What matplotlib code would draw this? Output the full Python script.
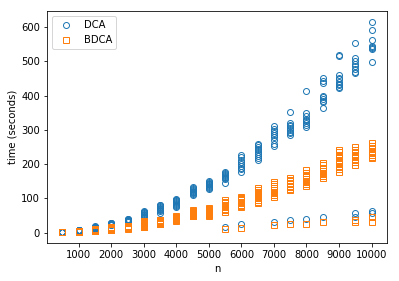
import numpy as np
import matplotlib
matplotlib.use('Agg')
import matplotlib.pyplot as plt

n_values = [500, 1000, 1500, 2000, 2500, 3000, 3500, 4000, 4500, 5000,
            5500, 6000, 6500, 7000, 7500, 8000, 8500, 9000, 9500, 10000]

# 10 runs per n
dca_times = [
    [1.5, 1.8, 2.0, 2.2, 1.6, 1.9, 2.1, 1.7, 2.3, 2.0],
    [5, 6, 7, 8, 6.5, 5.5, 7.5, 6, 8.5, 7],
    [12, 14, 15, 16, 17, 18, 13, 15.5, 16.5, 19],
    [22, 23, 24, 25, 26, 27, 28, 24.5, 25.5, 29],
    [32, 33, 34, 35, 36, 37, 38, 39, 40, 36.5],
    [45, 47, 49, 51, 53, 55, 57, 59, 61, 63],
    [58, 62, 65, 68, 70, 72, 74, 77, 80, 82],
    [76, 79, 82, 85, 88, 90, 92, 94, 96, 98],
    [110, 113, 116, 118, 120, 122, 124, 127, 130, 133],
    [128, 131, 134, 137, 139, 141, 143, 145, 147, 150],
    [18, 146, 158, 160, 163, 165, 168, 170, 173, 176],
    [24, 178, 185, 190, 195, 200, 205, 212, 220, 228],
    [211, 218, 225, 230, 235, 240, 245, 250, 255, 260],
    [31, 252, 260, 270, 280, 285, 290, 297, 303, 310],
    [38, 285, 290, 295, 300, 305, 310, 315, 319, 351],
    [41, 309, 313, 320, 325, 330, 333, 340, 350, 414],
    [46, 363, 381, 385, 390, 395, 399, 436, 443, 450],
    [421, 425, 430, 435, 440, 447, 452, 460, 516, 518],
    [45, 56, 465, 470, 478, 485, 492, 500, 509, 553],
    [57, 62, 499, 535, 540, 543, 546, 563, 592, 616],
]

bdca_times = [
    [0.8, 1.0, 1.2, 0.9, 1.1, 1.0, 0.7, 1.3, 0.9, 1.1],
    [3, 3.5, 4, 4.5, 5, 3.2, 3.8, 4.2, 4.8, 5.2],
    [4, 5, 6, 7, 8, 9, 10, 5.5, 6.5, 7.5],
    [8, 9, 10, 11, 12, 13, 14, 15, 16, 10.5],
    [12, 13, 14, 15, 16, 17, 18, 19, 20, 15.5],
    [16, 18, 20, 22, 24, 26, 28, 30, 32, 34],
    [24, 26, 28, 30, 32, 33, 34, 35, 36, 38],
    [34, 36, 38, 40, 41, 42, 43, 44, 46, 48],
    [48, 50, 52, 54, 56, 57, 58, 60, 62, 65],
    [50, 53, 55, 58, 60, 62, 64, 66, 69, 72],
    [12, 60, 65, 70, 74, 78, 82, 86, 90, 94],
    [15, 75, 78, 82, 86, 90, 94, 98, 101, 104],
    [86, 90, 95, 100, 105, 110, 115, 120, 125, 130],
    [21, 104, 110, 115, 120, 125, 130, 135, 142, 148],
    [26, 124, 128, 132, 137, 142, 146, 150, 155, 161],
    [26, 135, 142, 148, 152, 158, 163, 168, 175, 182],
    [31, 159, 165, 170, 175, 180, 185, 190, 197, 203],
    [177, 185, 192, 200, 207, 213, 220, 227, 234, 241],
    [31, 38, 197, 205, 212, 220, 228, 235, 242, 250],
    [31, 46, 217, 221, 226, 232, 238, 246, 252, 261],
]

x_dca = np.repeat(n_values, [len(r) for r in dca_times])
y_dca = np.concatenate(dca_times)
x_bdca = np.repeat(n_values, [len(r) for r in bdca_times])
y_bdca = np.concatenate(bdca_times)

fig = plt.figure(figsize=(399 / 72, 281 / 72), dpi=72)
ax = fig.add_axes([47 / 399, 1 - 243 / 281, 340 / 399, 232 / 281])

ax.plot(x_dca, y_dca, 'o', mfc='none', mec='C0', label='DCA')
ax.plot(x_bdca, y_bdca, 's', mfc='none', mec='C1', label='BDCA')

ax.set_xticks(range(1000, 10001, 1000))
ax.set_yticks(range(0, 601, 100))
ax.set_xlabel('n')
ax.set_ylabel('time (seconds)')
ax.legend(loc='upper left')

fig.savefig('out.png', dpi=72)
